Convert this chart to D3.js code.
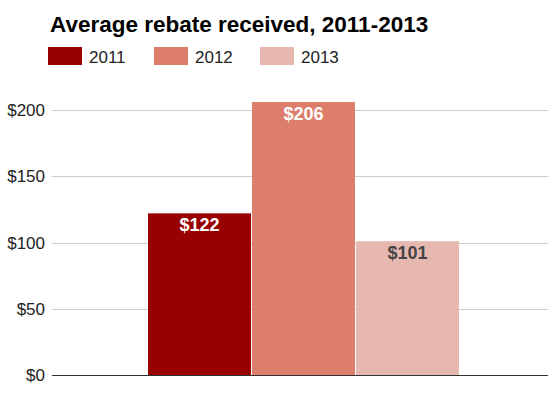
<!DOCTYPE html>
<html><head><meta charset="utf-8">
<script src="https://cdn.jsdelivr.net/npm/d3@7"></script>
<style>body{margin:0;background:#fff;font-family:Arial,"Liberation Sans",sans-serif}</style>
</head><body>
<svg id="c" width="552" height="398"></svg>
<script>
const years = ["2011","2012","2013"];
const values = [122, 206, 101];
const colors = ["#990000","#dd7e6b","#e6b8af"];
const labelColors = ["#ffffff","#ffffff","#444444"];
const yTicks = [0,50,100,150,200];

const svg = d3.select("#c");
const y = d3.scaleLinear().domain([0,200]).range([375,110]);
const x = d3.scaleBand().domain(years).range([148,459]).paddingInner(0.01);

svg.append("text").attr("x",50).attr("y",32).attr("font-size",22.5).attr("font-weight","bold")
  .attr("fill","#000").text("Average rebate received, 2011-2013");

const leg = svg.append("g");
years.forEach((yr,i)=>{
  const lx = 48 + i*106;
  leg.append("rect").attr("x",lx).attr("y",47).attr("width",34).attr("height",18).attr("fill",colors[i]);
  leg.append("text").attr("x",lx+41).attr("y",63).attr("font-size",17).attr("fill","#222").text(yr);
});

const g = svg.append("g");
g.selectAll("line.grid").data(yTicks.filter(d=>d>0)).join("line")
  .attr("x1",52).attr("x2",548).attr("y1",d=>Math.round(y(d))+0.5).attr("y2",d=>Math.round(y(d))+0.5)
  .attr("stroke","#cccccc");
g.selectAll("text.tick").data(yTicks).join("text")
  .attr("x",45).attr("y",d=>y(d)+6).attr("text-anchor","end").attr("font-size",17).attr("fill","#222")
  .text(d=>"$"+d);

g.selectAll("rect.bar").data(values).join("rect")
  .attr("x",(d,i)=>x(years[i])).attr("width",x.bandwidth())
  .attr("y",d=>y(d)).attr("height",d=>y(0)-y(d)).attr("fill",(d,i)=>colors[i]);

g.append("line").attr("x1",52).attr("x2",548).attr("y1",375.5).attr("y2",375.5).attr("stroke","#333");

g.selectAll("text.lbl").data(values).join("text")
  .attr("x",(d,i)=>x(years[i])+x.bandwidth()/2).attr("y",d=>y(d)+18)
  .attr("text-anchor","middle").attr("font-size",18).attr("font-weight","bold")
  .attr("fill",(d,i)=>labelColors[i]).text(d=>"$"+d);
</script>
</body></html>
